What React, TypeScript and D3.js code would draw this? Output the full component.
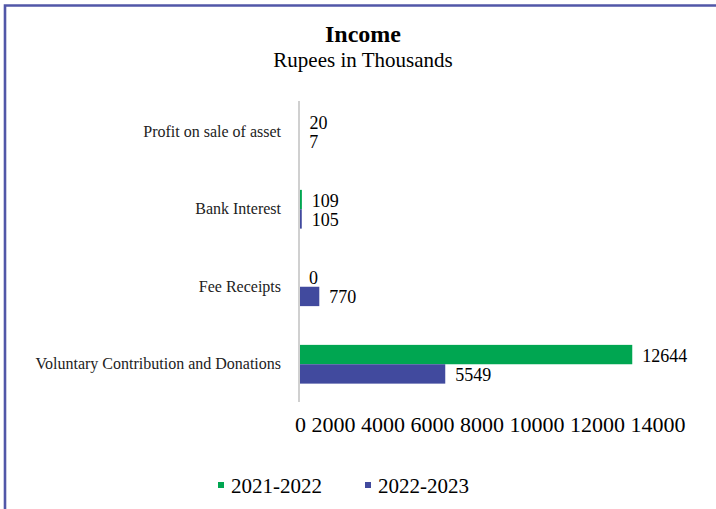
import React, { useEffect, useRef } from 'react';
import * as d3 from 'd3';

const WIDTH = 716;
const HEIGHT = 509;

const categories = [
  'Profit on sale of asset',
  'Bank Interest',
  'Fee Receipts',
  'Voluntary Contribution and Donations',
];
const seriesNames = ['2021-2022', '2022-2023'];
const values2122 = [20, 109, 0, 12644];
const values2223 = [7, 105, 770, 5549];
const xTicks = [0, 2000, 4000, 6000, 8000, 10000, 12000, 14000];
const colors = ['#00a651', '#414a9e'];

const FONT = '"Liberation Serif", "Times New Roman", serif';

const App: React.FC = () => {
  const ref = useRef<SVGSVGElement>(null);

  useEffect(() => {
    const svg = d3.select(ref.current);
    svg.selectAll('*').remove();

    // frame (only top and left edges are visible in the picture)
    svg
      .append('path')
      .attr('d', `M5,${HEIGHT + 5}V5.5H${WIDTH + 5}`)
      .attr('fill', 'none')
      .attr('stroke', '#5157a8')
      .attr('stroke-width', 2.6);

    svg
      .append('text')
      .attr('x', 363)
      .attr('y', 42)
      .attr('text-anchor', 'middle')
      .attr('font-family', FONT)
      .attr('font-weight', 'bold')
      .attr('font-size', 24)
      .text('Income');

    svg
      .append('text')
      .attr('x', 363)
      .attr('y', 67)
      .attr('text-anchor', 'middle')
      .attr('font-family', FONT)
      .attr('font-size', 21)
      .text('Rupees in Thousands');

    const x = d3.scaleLinear().domain([0, 14000]).range([299, 668]);
    const y = d3
      .scaleBand()
      .domain(categories)
      .range([93, 403])
      .paddingInner(0.5)
      .paddingOuter(0.25);
    const sub = d3.scaleBand().domain(seriesNames).range([0, y.bandwidth()]);

    const rows = categories.map((c, i) => ({ c, v: [values2122[i], values2223[i]] }));

    // category labels
    svg
      .append('g')
      .selectAll('text')
      .data(categories)
      .join('text')
      .attr('x', 281)
      .attr('y', (d) => (y(d) as number) + y.bandwidth() / 2 + 5)
      .attr('text-anchor', 'end')
      .attr('font-family', FONT)
      .attr('font-size', 16)
      .attr('fill', '#222')
      .text((d) => d);

    const groups = svg
      .append('g')
      .selectAll('g')
      .data(rows)
      .join('g')
      .attr('transform', (d) => `translate(0,${y(d.c)})`);

    groups
      .selectAll('rect')
      .data((d) => d.v.map((v, j) => ({ v, s: seriesNames[j], j })))
      .join('rect')
      .attr('x', x(0))
      .attr('y', (d) => sub(d.s) as number)
      .attr('width', (d) => x(d.v) - x(0))
      .attr('height', sub.bandwidth())
      .attr('fill', (d) => colors[d.j]);

    groups
      .selectAll('text')
      .data((d) => d.v.map((v, j) => ({ v, s: seriesNames[j] })))
      .join('text')
      .attr('x', (d) => x(d.v) + 10)
      .attr('y', (d) => (sub(d.s) as number) + sub.bandwidth() / 2 + 7)
      .attr('font-family', FONT)
      .attr('font-size', 18)
      .text((d) => d3.format('d')(d.v));

    // vertical axis line
    svg
      .append('line')
      .attr('x1', x(0))
      .attr('x2', x(0))
      .attr('y1', 101)
      .attr('y2', 402)
      .attr('stroke', '#d0d0d0')
      .attr('stroke-width', 2);

    // tick labels run together as in the original
    svg
      .append('text')
      .attr('x', x(0) - 4)
      .attr('y', 432)
      .attr('font-family', FONT)
      .attr('font-size', 22)
      .text(xTicks.map((t) => String(t)).join(' '));

    // legend
    const legend = svg
      .append('g')
      .selectAll('g')
      .data(seriesNames)
      .join('g')
      .attr('transform', (_, i) => `translate(${218 + i * 147},0)`);
    legend
      .append('rect')
      .attr('x', 0)
      .attr('y', 482)
      .attr('width', 6)
      .attr('height', 6)
      .attr('fill', (_, i) => colors[i]);
    legend
      .append('text')
      .attr('x', 13)
      .attr('y', 493)
      .attr('font-family', FONT)
      .attr('font-size', 21)
      .text((d) => d);
  }, []);

  return (
    <svg
      ref={ref}
      width={WIDTH}
      height={HEIGHT}
      style={{ position: 'absolute', left: 0, top: 0, background: '#fff' }}
    />
  );
};

export default App;
